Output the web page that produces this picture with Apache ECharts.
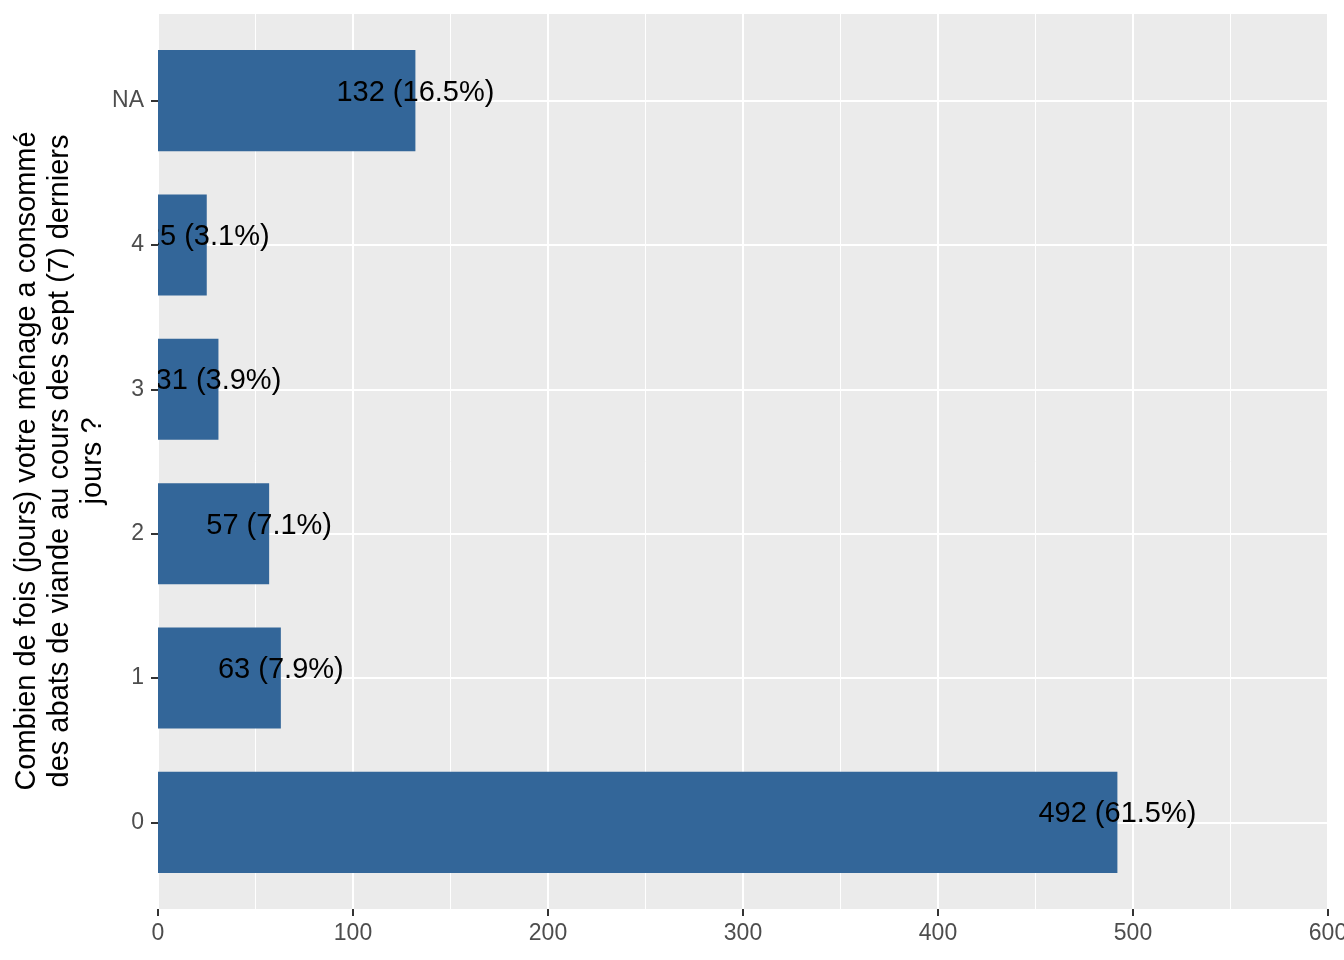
<!DOCTYPE html>
<html>
<head>
<meta charset="utf-8">
<script src="https://cdn.jsdelivr.net/npm/echarts@6/dist/echarts.min.js"></script>
<style>
html,body{margin:0;padding:0;background:#fff;}
#chart{width:1344px;height:960px;}
</style>
</head>
<body>
<div id="chart"></div>
<script>
const categories = ['0', '1', '2', '3', '4', 'NA'];
const counts = [492, 63, 57, 31, 25, 132];
const percents = ['61.5%', '7.9%', '7.1%', '3.9%', '3.1%', '16.5%'];
const xTickValues = [0, 100, 200, 300, 400, 500, 600];
const yTitle = 'Combien de fois (jours) votre ménage a consommé\ndes abats de viande au cours des sept (7) derniers\njours ?';

const FONT = '"Liberation Sans", Arial, sans-serif';
const chart = echarts.init(document.getElementById('chart'), null, {renderer: 'canvas'});

const seriesData = counts.map((c, i) => [c, i, c + ' (' + percents[i] + ')']);

chart.setOption({
  animation: false,
  backgroundColor: '#ffffff',
  grid: {
    left: 158, right: 16, top: 14, bottom: 51,
    show: true, backgroundColor: '#EBEBEB', borderWidth: 0,
    containLabel: false, outerBoundsMode: 'none'
  },
  xAxis: {
    type: 'value',
    min: xTickValues[0], max: xTickValues[xTickValues.length - 1], interval: 100,
    axisLine: {show: false, onZero: false},
    axisTick: {show: true, length: 7, lineStyle: {color: '#333333', width: 2}},
    axisLabel: {color: '#4D4D4D', fontSize: 23, fontFamily: FONT, margin: 13, lineHeight: 23, showMaxLabel: true},
    splitLine: {show: true, lineStyle: {color: '#ffffff', width: 2}},
    minorTick: {show: false, splitNumber: 2},
    minorSplitLine: {show: true, lineStyle: {color: '#ffffff', width: 1}}
  },
  yAxis: {
    type: 'value',
    min: -0.6, max: categories.length - 0.4,
    axisLine: {show: false, onZero: false},
    axisTick: {show: true, length: 7, lineStyle: {color: '#333333', width: 2},
      customValues: categories.map((c, i) => i)},
    axisLabel: {color: '#4D4D4D', fontSize: 23, fontFamily: FONT, margin: 14,
      padding: [5, 0, 0, 0],
      customValues: categories.map((c, i) => i),
      formatter: v => categories[Math.round(v)]},
    splitLine: {show: true, lineStyle: {color: '#ffffff', width: 2}}
  },
  graphic: [{
    type: 'text',
    x: 60, y: 461,
    rotation: Math.PI / 2,
    style: {
      text: yTitle,
      font: '29px ' + FONT,
      fontSize: 29, fontFamily: FONT,
      fill: '#000000',
      textAlign: 'center', textVerticalAlign: 'middle',
      align: 'center', verticalAlign: 'middle',
      lineHeight: 33
    }
  }],
  series: [{
    type: 'custom',
    clip: true,
    data: seriesData,
    encode: {x: 0, y: 1},
    renderItem: function (params, api) {
      const v = api.value(0), idx = api.value(1);
      const p0 = api.coord([0, idx + 0.35]);
      const p1 = api.coord([v, idx - 0.35]);
      const pc = api.coord([v, idx]);
      return {
        type: 'group',
        children: [{
          type: 'rect',
          shape: {x: p0[0], y: p0[1], width: p1[0] - p0[0], height: p1[1] - p0[1]},
          style: {fill: '#336699'}
        }, {
          type: 'text',
          x: pc[0], y: pc[1] - 8,
          style: {
            text: seriesData[params.dataIndex][2],
            font: '29px ' + FONT,
            fill: '#000000',
            align: 'center', verticalAlign: 'middle'
          },
          z2: 10
        }]
      };
    }
  }]
});
</script>
</body>
</html>
